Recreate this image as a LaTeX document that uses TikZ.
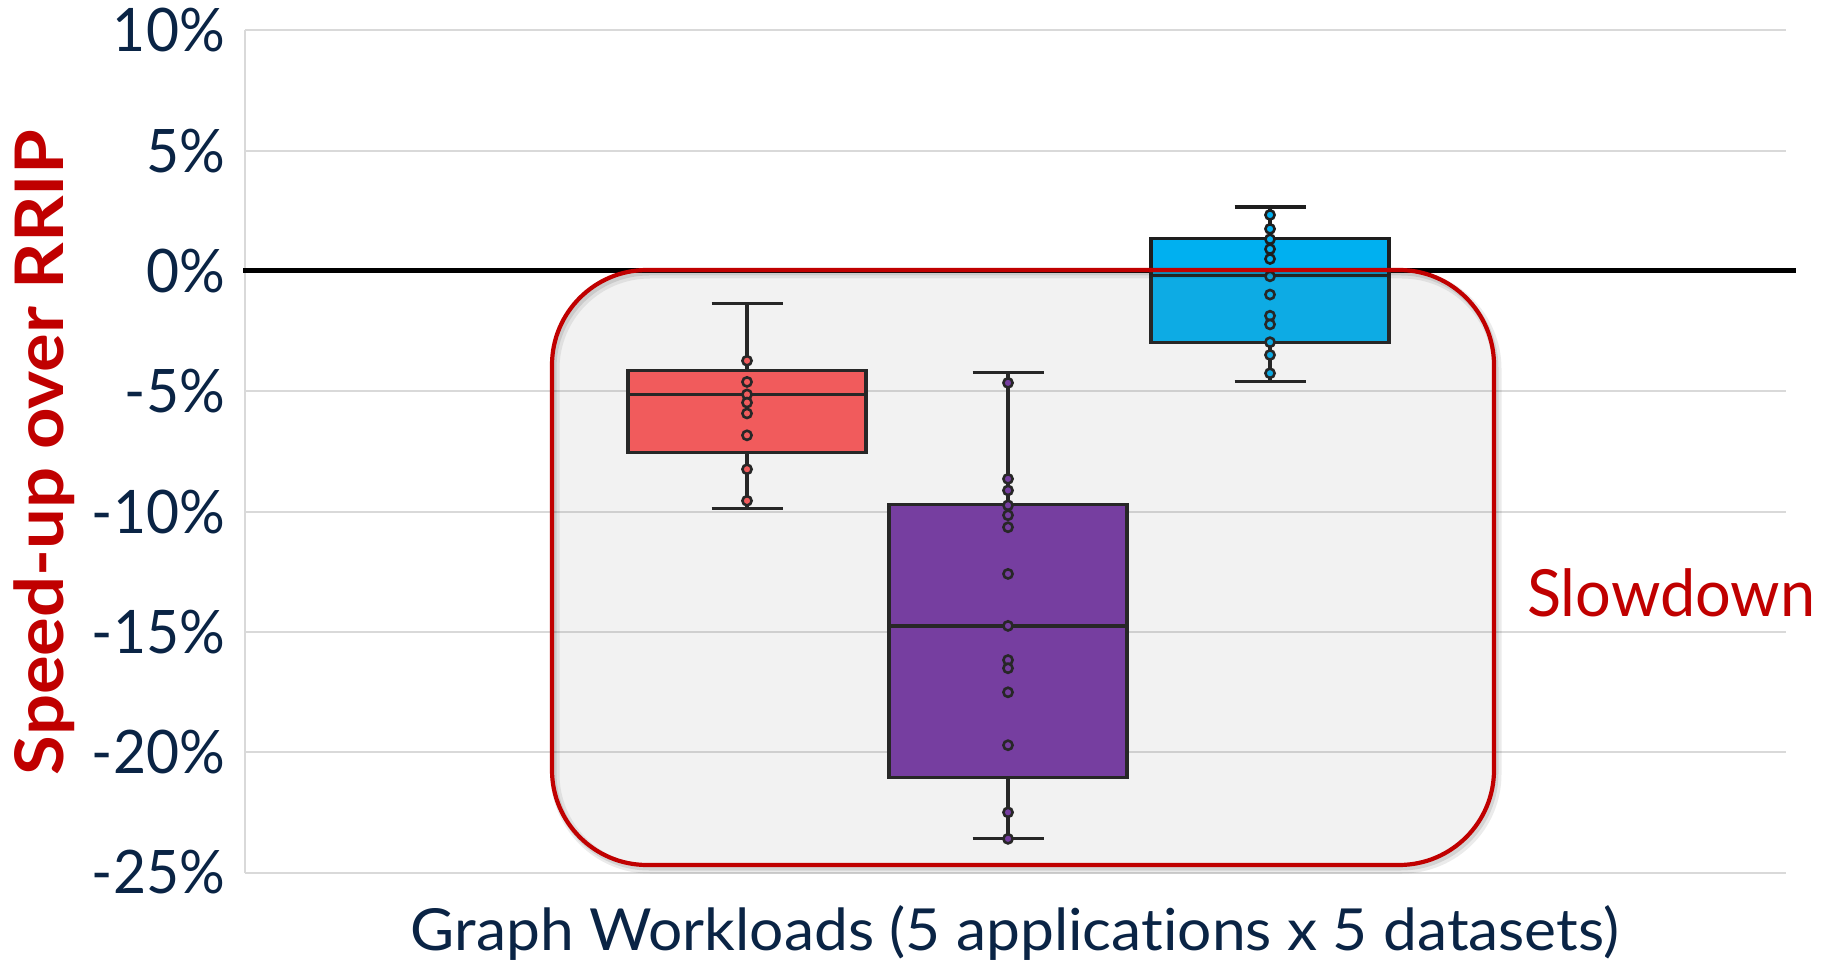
\documentclass[tikz,border=0pt]{standalone}
\usepackage{fontspec}
\usepackage{graphicx}
\setmainfont{Lato}[Ligatures=NoCommon]
\definecolor{navy}{HTML}{0A2445}
\definecolor{slowred}{HTML}{C00000}
\definecolor{gridgray}{HTML}{D9D9D9}
\definecolor{inkline}{HTML}{1E1E1E}
\definecolor{boxred}{HTML}{FE5759}
\definecolor{boxpurple}{HTML}{7537A4}
\definecolor{boxblue}{HTML}{00B0F0}
\definecolor{veilgray}{HTML}{808080}

\tikzset{
  gridline/.style={draw=gridgray, line width=2pt},
  zeroline/.style={draw=black, line width=5pt},
  whisker/.style={draw=inkline, line width=3.2pt},
  boxline/.style={draw=inkline, line width=3.3pt},
  dotline/.style={draw=inkline, line width=2.6pt},
  ticklabel/.style={anchor=east, text=navy, inner sep=0pt, font=\fontsize{60}{60}\selectfont},
  regionframe/.style={draw=slowred, line width=4.2pt, rounded corners=95pt},
}

% one box-and-whisker group: x, low cap, lower quartile, median, upper quartile, high cap, fill, points
\newcommand\plotbox[8]{%
  \draw[whisker] (#1,#2) -- (#1,#3) (#1,#5) -- (#1,#6);
  \draw[whisker] (#1-35.5,#2) -- (#1+35.5,#2) (#1-35.5,#6) -- (#1+35.5,#6);
  \filldraw[boxline, fill=#7] (#1-119,#3) rectangle (#1+119,#5);
  \draw[boxline] (#1-119,#4) -- (#1+119,#4);
  \foreach \d in {#8} \filldraw[dotline, fill=#7] (#1,\d) circle[radius=4.6pt];
}

\begin{document}
\begin{tikzpicture}[x=1pt,y=1pt]
\useasboundingbox (0,0) rectangle (1827,964);

% value axis: y = percent, zero at 693pt, 24.06pt per percent
\begin{scope}[yshift=693pt, y=24.06pt]
  \foreach \v in {10,5,-5,-10,-15,-20,-25}
    \draw[gridline] (245,\v) -- (1786,\v);
  \draw[gridline] (245,10) -- (245,-25);
  \draw[zeroline] (243,0) -- (1796,0);

  \foreach \v/\t in {10/10\%,5/5\%,0/0\%,-5/-5\%,-10/-10\%,-15/-15\%,-20/-20\%,-25/-25\%}
    \node[ticklabel] (tick\v) at (225,\v) {\scalebox{0.95}[1]{\t}};

  \plotbox{747}{-9.86}{-7.54}{-5.13}{-4.14}{-1.36}{boxred}
    {-3.73,-4.61,-5.13,-5.47,-5.92,-6.83,-8.24,-9.55}
  \plotbox{1008}{-23.6}{-21.06}{-14.75}{-9.70}{-4.23}{boxpurple}
    {-4.65,-8.64,-9.12,-9.74,-10.15,-10.65,-12.59,-14.75,-16.17,-16.51,-17.51,-19.71,-22.5,-23.6}
  \plotbox{1270}{-4.58}{-2.96}{-0.19}{1.36}{2.66}{boxblue}
    {2.33,1.75,1.32,0.91,0.50,-0.22,-0.98,-1.86,-2.22,-2.96,-3.49,-4.25}
\end{scope}

% highlighted slowdown region with soft shadow and translucent veil
\draw[draw=black, opacity=0.08, line width=9pt, rounded corners=95pt] (555,690) rectangle (1497,95);
\draw[draw=black, opacity=0.1, line width=5pt, rounded corners=95pt] (554,691) rectangle (1496,96);
\fill[veilgray, opacity=0.1, rounded corners=95pt] (552,694) rectangle (1494,99);
\draw[regionframe] (552,694) rectangle (1494,99);

\node[anchor=base west, text=slowred, inner sep=0pt, font=\fontsize{65}{65}\selectfont]
  (slow) at (1527,347) {\resizebox{288pt}{\height}{Slowdown}};

\node[anchor=base, text=navy, inner sep=0pt, font=\fontsize{58}{58}\selectfont]
  (xtitle) at (1015,14) {\resizebox{1208pt}{\height}{Graph Workloads (5 applications x 5 datasets)}};

\node[anchor=base, rotate=90, text=slowred, inner sep=0pt, font=\fontsize{67}{67}\selectfont\bfseries]
  (ytitle) at (63,511.5) {\resizebox{645pt}{\height}{Speed-up over RRIP}};
\end{tikzpicture}
\end{document}
